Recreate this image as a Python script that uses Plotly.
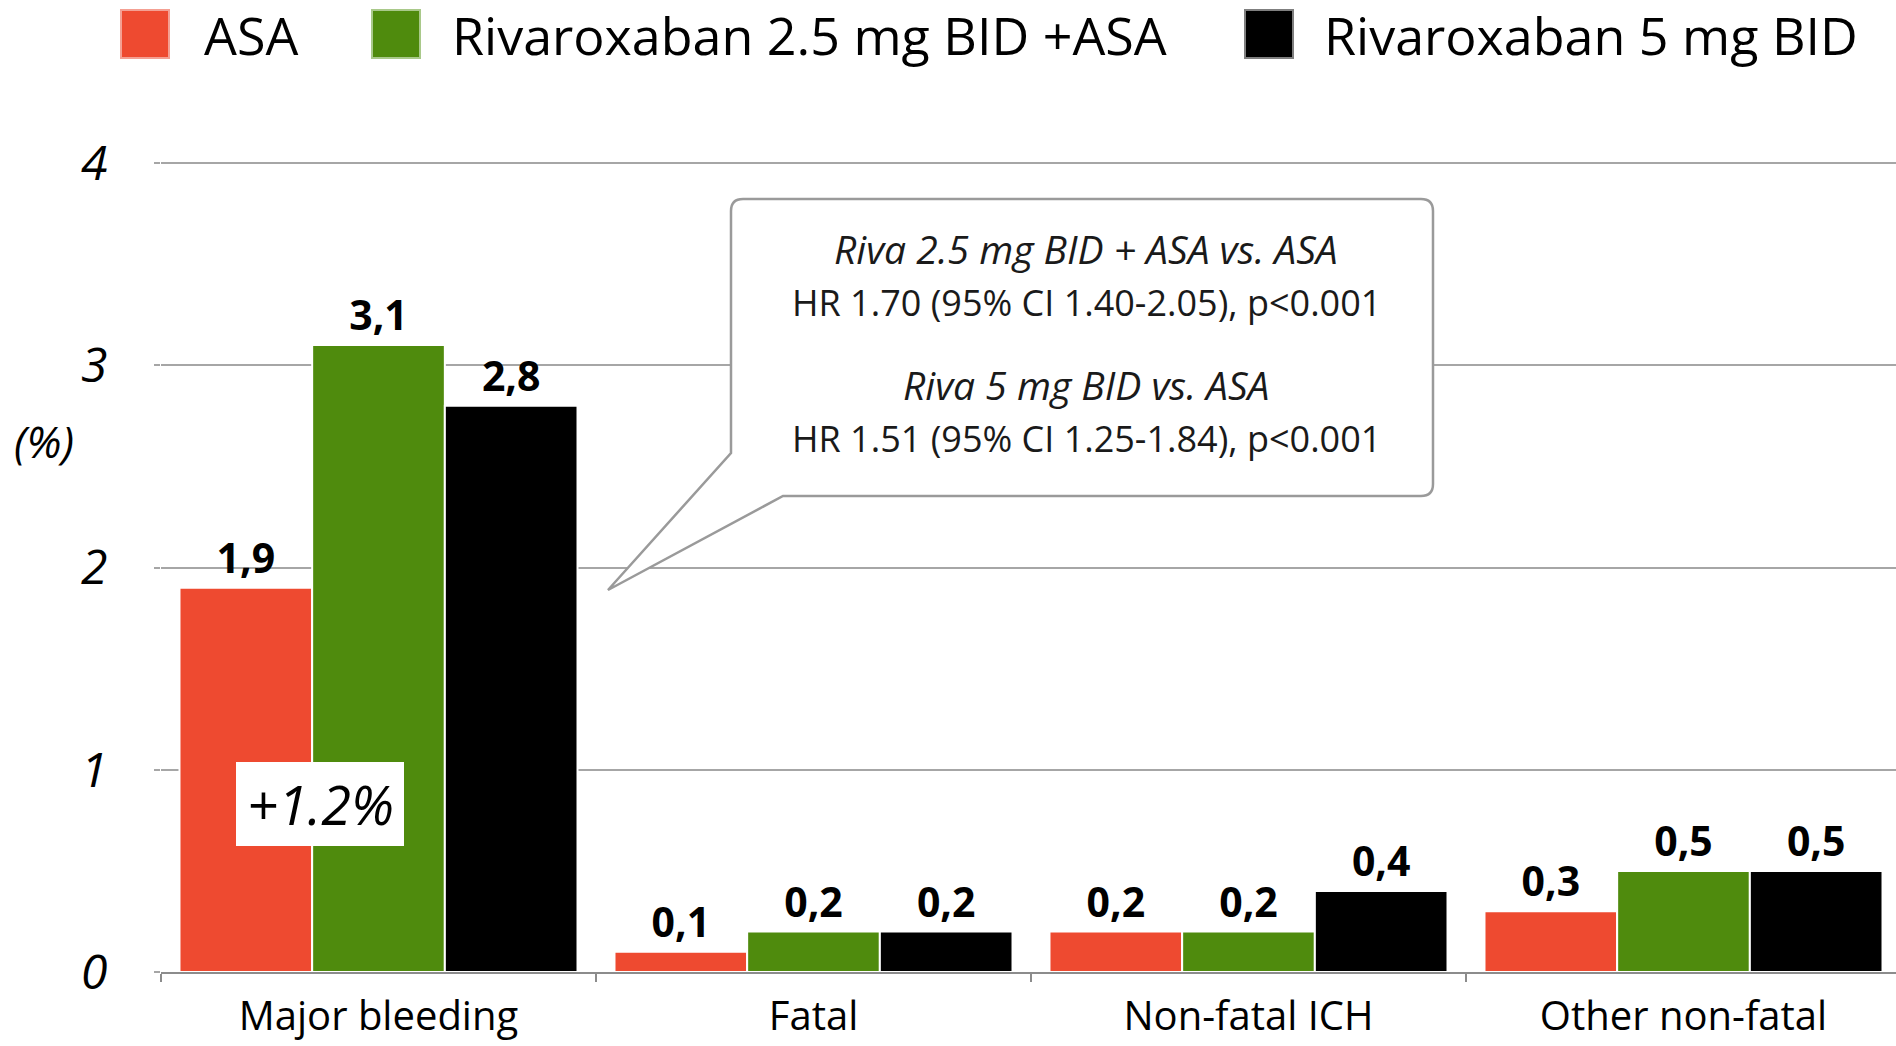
import plotly.graph_objects as go

categories = ["Major bleeding", "Fatal", "Non-fatal ICH", "Other non-fatal"]
series_names = ["ASA", "Rivaroxaban 2.5 mg BID +ASA", "Rivaroxaban 5 mg BID"]
asa = [1.9, 0.1, 0.2, 0.3]
riva25_asa = [3.1, 0.2, 0.2, 0.5]
riva5 = [2.8, 0.2, 0.4, 0.5]
y_ticks = [0, 1, 2, 3, 4]
callout_lines = [
    ("Riva 2.5 mg BID + ASA vs. ASA", True),
    ("HR 1.70 (95% CI 1.40-2.05), p<0.001", False),
    ("Riva 5 mg BID vs. ASA", True),
    ("HR 1.51 (95% CI 1.25-1.84), p<0.001", False),
]
diff_label = "+1.2%"
y_title = "(%)"

colors = ["#EE4A30", "#4F8B0D", "#000000"]
legend_edge = ["#F4A093", "#A9C98A", "#7F7F7F"]
FONT = "Open Sans"
W, H = 1896, 1046
ML, MR, MT, MB = 161, 0, 153, 74
PW, PH = W - ML - MR, H - MT - MB


def px(x):
    return (x - ML) / PW


def py(y):
    return (H - MB - y) / PH


fig = go.Figure()
for name, vals, col in zip(series_names, [asa, riva25_asa, riva5], colors):
    fig.add_trace(go.Bar(
        x=categories, y=vals, name=name,
        marker=dict(color=col, line=dict(color="white", width=2)),
        text=[f"{v:.1f}".replace(".", ",") for v in vals],
        textposition="outside",
        textfont=dict(family=FONT, size=41, color="black", weight="bold"),
        cliponaxis=False, showlegend=False,
    ))

shapes = []
annotations = []

# custom legend
leg_sq = [(121, 169), (372, 420), (1245, 1293)]
leg_tx = [202, 450, 1322]
for (x0, x1), tx, name, col, edge in zip(leg_sq, leg_tx, series_names, colors, legend_edge):
    shapes.append(dict(type="rect", xref="paper", yref="paper",
                       x0=px(x0), x1=px(x1), y0=py(58), y1=py(10),
                       fillcolor=col, line=dict(color=edge, width=2), layer="above"))
    annotations.append(dict(xref="paper", yref="paper", x=px(tx), y=py(34),
                            xanchor="left", yanchor="middle", showarrow=False,
                            text=name, font=dict(family=FONT, size=52, color="black")))

# callout bubble
L, R, T, B, r = 731, 1433, 199, 496, 12


def P(x, y):
    return f"{px(x):.5f},{py(y):.5f}"


path = (f"M {P(L + r, T)} L {P(R - r, T)} Q {P(R, T)} {P(R, T + r)} "
        f"L {P(R, B - r)} Q {P(R, B)} {P(R - r, B)} L {P(783, B)} "
        f"L {P(608, 590)} L {P(L, 453)} L {P(L, T + r)} Q {P(L, T)} {P(L + r, T)} Z")
shapes.append(dict(type="path", xref="paper", yref="paper", path=path,
                   fillcolor="white", line=dict(color="#9a9a9a", width=2.5), layer="above"))
for (txt, ital), yy in zip(callout_lines, [248, 302, 384, 438]):
    annotations.append(dict(xref="paper", yref="paper", x=px(1086), y=py(yy),
                            xanchor="center", yanchor="middle", showarrow=False, text=txt,
                            font=dict(family=FONT, size=39 if ital else 36, color="#1a1a1a",
                                      style="italic" if ital else "normal")))

# +1.2% box
shapes.append(dict(type="rect", xref="paper", yref="paper",
                   x0=px(236), x1=px(404), y0=py(846), y1=py(762),
                   fillcolor="white", line=dict(width=0), layer="above"))
annotations.append(dict(xref="paper", yref="paper", x=px(320), y=py(804),
                        xanchor="center", yanchor="middle", showarrow=False, text=diff_label,
                        font=dict(family=FONT, size=54, color="black", style="italic")))

# y title
annotations.append(dict(xref="paper", yref="paper", x=px(44), y=py(441),
                        xanchor="center", yanchor="middle", showarrow=False, text=y_title,
                        font=dict(family=FONT, size=44, color="black", style="italic")))

fig.update_layout(
    width=W, height=H,
    margin=dict(l=ML, r=MR, t=MT, b=MB, pad=0, autoexpand=False),
    paper_bgcolor="white", plot_bgcolor="white",
    barmode="group", bargap=0.085, bargroupgap=0.0,
    showlegend=False,
    font=dict(family=FONT, color="black"),
    shapes=shapes, annotations=annotations,
    xaxis=dict(type="category", range=[-0.5, -0.5 + PW / 435.0], automargin=False,
               showline=True, linecolor="#8c8c8c", linewidth=2,
               ticks="outside", tickson="boundaries", ticklen=8,
               tickcolor="#8c8c8c", tickwidth=2, showgrid=False,
               tickfont=dict(family=FONT, size=40, color="black"),
               ticklabelstandoff=8),
    yaxis=dict(range=[0, 4.05], tickvals=y_ticks, ticktext=[str(v) for v in y_ticks],
               automargin=False,
               showgrid=True, gridcolor="#a6a6a6", gridwidth=2,
               ticks="outside", ticklen=6, tickcolor="#a6a6a6", tickwidth=2,
               zeroline=False, showline=False,
               tickfont=dict(family=FONT, size=48, color="black", style="italic"),
               ticklabelstandoff=37),
)

fig.write_html("out.html", config={"displayModeBar": False},
               post_script="document.body.style.margin='0';")
